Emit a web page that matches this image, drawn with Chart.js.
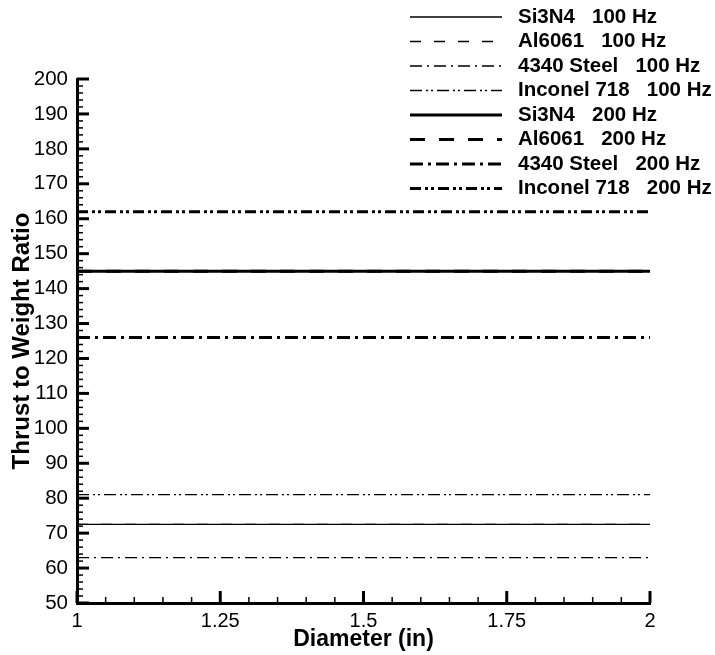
<!DOCTYPE html>
<html>
<head>
<meta charset="utf-8">
<script src="https://cdn.jsdelivr.net/npm/chart.js@4"></script>
<style>
  html, body { margin: 0; padding: 0; background: #fff; }
  #wrap { width: 715px; height: 655px; }
</style>
</head>
<body>
<div id="wrap"><canvas id="chart"></canvas></div>
<script>
// data (lines are flat across the diameter range)
const diameters = [1, 2];
const materials = ['Si3N4', 'Al6061', '4340 Steel', 'Inconel 718'];
const ratio100 = [72.5, 72.5, 63, 81];   // Al6061 sits under Si3N4
const ratio200 = [145, 145, 126, 162];
const freqLabels = ['100 Hz', '200 Hz'];

const dashThin = [[], [11, 13], [12, 5, 2, 5], [12, 4, 2, 3, 2, 4]];
const dashThick = [[], [15, 14], [13, 5, 3, 5], [11, 4, 3, 3, 3, 4]];

const FONT = "'Liberation Sans', Arial, sans-serif";

function makeSet(name, freq, value, dash, width) {
    return {
        label: name + '   ' + freq,
        data: diameters.map(d => ({ x: d, y: value })),
        borderColor: '#000',
        borderWidth: width,
        borderDash: dash,
        pointRadius: 0,
        fill: false,
        tension: 0
    };
}

var datasets = [];
materials.forEach((m, i) => datasets.push(makeSet(m, freqLabels[0], ratio100[i], dashThin[i], 1.3)));
materials.forEach((m, i) => datasets.push(makeSet(m, freqLabels[1], ratio200[i], dashThick[i], 3)));

// inward major/minor ticks on both axes
const axisTicks = {
    id: 'axisTicks',
    afterDraw(chart) {
        const { ctx, scales: { x, y } } = chart;
        ctx.save();
        ctx.strokeStyle = '#000';
        for (let i = 0; i <= 75; i++) {
            const py = y.getPixelForValue(50 + i * 2);
            const major = i % 5 === 0;
            ctx.lineWidth = major ? 3 : 1.5;
            ctx.beginPath();
            ctx.moveTo(x.left, py);
            ctx.lineTo(x.left + (major ? 12 : 6), py);
            ctx.stroke();
        }
        for (let i = 0; i <= 20; i++) {
            const px = x.getPixelForValue(1 + i * 0.05);
            const major = i % 5 === 0;
            ctx.lineWidth = major ? 3 : 1.5;
            ctx.beginPath();
            ctx.moveTo(px, y.bottom);
            ctx.lineTo(px, y.bottom - (major ? 12 : 6));
            ctx.stroke();
        }
        ctx.restore();
    }
};

// legend stacked in the top right corner, like the original
const cornerLegend = {
    id: 'cornerLegend',
    afterDraw(chart) {
        const ctx = chart.ctx;
        ctx.save();
        ctx.fillStyle = '#000';
        ctx.strokeStyle = '#000';
        ctx.font = 'bold 20.5px ' + FONT;
        ctx.textBaseline = 'middle';
        chart.data.datasets.forEach((ds, i) => {
            const yy = 17 + i * 24.5;
            ctx.lineWidth = ds.borderWidth;
            ctx.setLineDash(ds.borderDash);
            ctx.beginPath();
            ctx.moveTo(410, yy);
            ctx.lineTo(502, yy);
            ctx.stroke();
            ctx.setLineDash([]);
            ctx.fillText(ds.label, 518, yy);
        });
        ctx.restore();
    }
};

new Chart(document.getElementById('chart'), {
    type: 'line',
    data: { datasets: datasets },
    options: {
        responsive: true,
        maintainAspectRatio: false,
        animation: false,
        layout: { padding: { top: 79, right: 65, bottom: 0, left: 0 } },
        scales: {
            x: {
                type: 'linear',
                min: 1,
                max: 2,
                ticks: {
                    stepSize: 0.25,
                    color: '#000',
                    font: { family: FONT, size: 20 },
                    padding: 6,
                    maxRotation: 0,
                    callback: v => String(+v.toFixed(2))
                },
                grid: { display: false, drawTicks: false },
                border: { display: true, color: '#000', width: 3 },
                title: {
                    display: true,
                    text: 'Diameter (in)',
                    color: '#000',
                    font: { family: FONT, size: 23, weight: 'bold' },
                    padding: { top: 0, bottom: 2 }
                },
                afterFit(s) { s.height = 52; }
            },
            y: {
                min: 50,
                max: 200,
                ticks: { stepSize: 10, color: '#000', font: { family: FONT, size: 20.5 }, padding: 9 },
                grid: { display: false, drawTicks: false },
                border: { display: true, color: '#000', width: 3 },
                title: {
                    display: true,
                    text: 'Thrust to Weight Ratio',
                    color: '#000',
                    font: { family: FONT, size: 24, weight: 'bold' },
                    padding: { top: 8, bottom: 0 }
                },
                afterFit(s) { s.width = 77; }
            }
        },
        plugins: {
            legend: { display: false },
            tooltip: { enabled: false }
        }
    },
    plugins: [axisTicks, cornerLegend]
});
</script>
</body>
</html>
